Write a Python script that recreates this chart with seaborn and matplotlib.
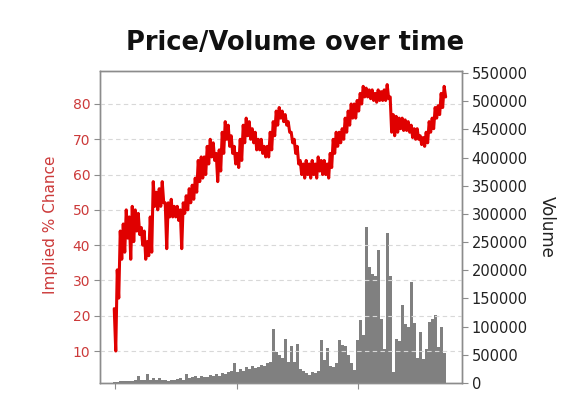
import numpy as np
import pandas as pd
import matplotlib
matplotlib.use("Agg")
import matplotlib.pyplot as plt
import seaborn as sns

# ---- data ----
price_high = [22, 33, 44, 46, 50, 48, 51, 50, 49, 45, 44, 41, 48, 58, 55, 56, 58, 52, 52, 53,
              51, 51, 50, 52, 54, 56, 57, 59, 64, 65, 65, 68, 70, 69, 66, 67, 72, 75, 74, 71,
              68, 66, 70, 74, 76, 75, 73, 72, 70, 70, 68, 68, 72, 75, 78, 79, 78, 77, 75, 72,
              70, 68, 64, 63, 64, 63, 64, 63, 65, 64, 64, 63, 66, 70, 72, 72, 73, 76, 78, 80,
              80, 81, 83, 85, 84.5, 84, 84, 83, 84, 83.5, 84, 85.5, 82, 77, 76.5, 76, 76, 75.5, 75, 74,
              73, 73, 71, 70.5, 72, 75, 76, 79, 79.5, 83, 85]
price_low = [10, 25, 36, 38, 42, 36, 41, 44, 43, 40, 36, 37, 38, 51, 50, 51, 52, 39, 48, 48,
             48, 47, 39, 49, 50, 52, 53, 55, 58, 59, 60, 63, 65, 64, 58, 61, 66, 70, 68, 66,
             63, 62, 64, 69, 71, 70, 69, 67, 67, 66, 65, 65, 67, 71, 74, 76, 75, 74, 72, 69,
             66, 63, 60, 59, 60, 59, 60, 59, 61, 60, 60, 59, 62, 66, 68, 69, 70, 72, 74, 76,
             76, 78, 80, 82, 82, 81.5, 81, 80.5, 81, 81, 81, 81.5, 72, 71, 72, 73, 72.5, 72.5, 72, 70.5,
             70, 70, 68.5, 68, 69, 72, 73, 76, 77, 79, 82]
volume_k = [2, 2, 3, 3, 4, 3, 4, 5, 12, 6, 5, 16, 6, 8, 5, 9, 6, 5, 4, 6,
            5, 7, 8, 6, 16, 8, 10, 12, 9, 13, 11, 10, 14, 12, 16, 13, 18, 16, 20, 22,
            36, 20, 25, 22, 28, 24, 30, 26, 28, 32, 30, 35, 38, 96, 55, 50, 45, 78, 38, 66,
            37, 70, 25, 22, 18, 15, 20, 17, 22, 77, 40, 62, 30, 28, 35, 77, 68, 66, 50, 35,
            23, 77, 112, 85, 277, 205, 193, 190, 236, 113, 60, 266, 190, 20, 78, 75, 138, 105, 100, 180,
            106, 45, 90, 42, 60, 108, 113, 121, 64, 100, 53]
volume = [v * 1000 for v in volume_k]
day = np.arange(len(volume))

left_ticks = [10, 20, 30, 40, 50, 60, 70, 80]
right_ticks = list(range(0, 550001, 50000))
x_ticks = [0, 40.7, 81]

# zig-zag price path between the read highs and lows
px, py = [], []
for d, hi, lo in zip(day, price_high, price_low):
    px += [d - 0.25, d + 0.25]
    py += [hi, lo]
price_df = pd.DataFrame({"day": px, "price": py})
vol_df = pd.DataFrame({"day": day, "volume": volume})

# ---- style ----
sns.set_theme(style="white")
plt.rcParams['font.family'] = ['DejaVu Sans']
RED = "#cc3a3a"
SPINE = "#8c8c8c"

fig = plt.figure(figsize=(5.85, 4.19), dpi=100)
ax = fig.add_axes([100/585, 1-383/419, 362/585, 312/419])
ax2 = ax.twinx()

sns.barplot(data=vol_df, x="day", y="volume", native_scale=True, width=1.0,
            color="#808080", saturation=1, linewidth=0, ax=ax2)
sns.lineplot(data=price_df, x="day", y="price", sort=False, estimator=None,
             color="#e00000", linewidth=2.2, ax=ax)

ax.set_zorder(ax2.get_zorder() + 1)
ax.patch.set_visible(False)

ax.set_xlim(-5, 115.7)
ax.set_ylim(0.94, 89.35)
ax2.set_ylim(0, 553500)

ax.set_yticks(left_ticks)
ax.set_yticklabels([str(v) for v in left_ticks])
ax2.set_yticks(right_ticks)
ax2.set_yticklabels([str(v) for v in right_ticks])
ax.set_xticks(x_ticks)
ax.set_xticklabels([])
ax2.set_xlabel("")
ax.set_xlabel("")
ax.set_ylabel("")
ax2.set_ylabel("")

ax.yaxis.grid(True, color="#d8d8d8", linestyle=(0, (4, 3)), linewidth=0.8)
ax.xaxis.grid(False)
ax2.grid(False)

for a in (ax, ax2):
    for s in a.spines.values():
        s.set_color(SPINE)
        s.set_linewidth(1.0)

ax.tick_params(axis="y", which="both", left=True, length=4, width=0.8, color=SPINE,
               labelcolor=RED, labelsize=10, pad=3)
ax.tick_params(axis="x", bottom=True, length=4, width=0.8, color=SPINE)
ax2.tick_params(axis="y", right=True, length=4, width=0.8, color=SPINE,
                labelcolor="#222222", labelsize=10.5, pad=3)

fig.text(0.505, 1 - 43/419, "Price/Volume over time", ha="center", va="center",
         fontsize=18.5, fontweight="bold", color="#111111")
fig.text(51/585, 1 - 225/419, "Implied % Chance", rotation=90, ha="center", va="center",
         fontsize=11, color=RED)
fig.text(547/585, 1 - 227/419, "Volume", rotation=270, ha="center", va="center",
         fontsize=12, color="#222222")

fig.savefig("out.png", dpi=100)
